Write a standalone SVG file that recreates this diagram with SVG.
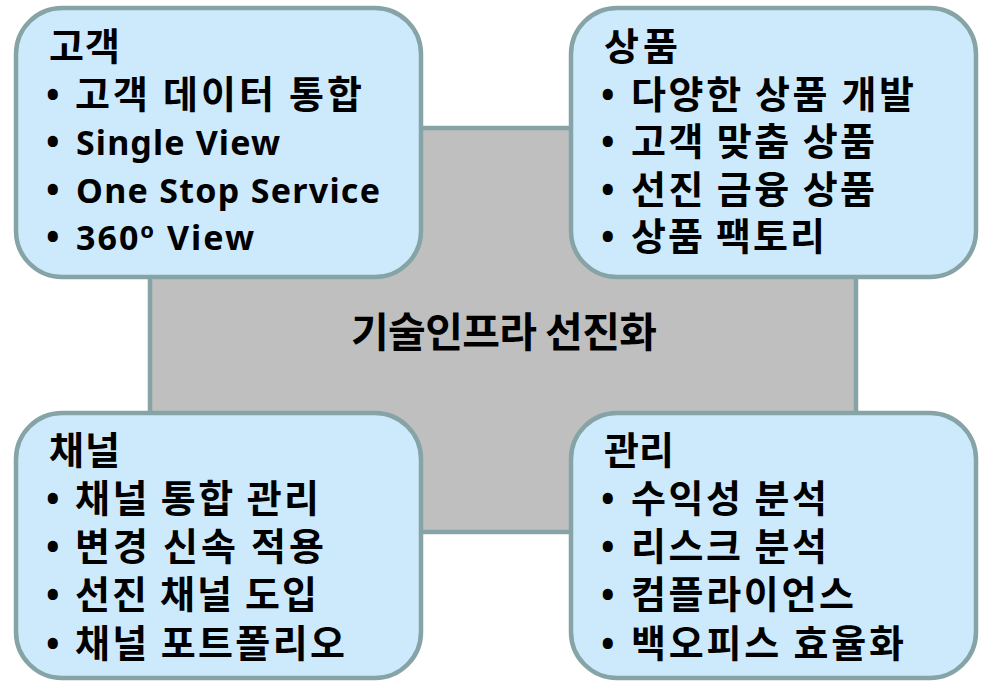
<svg xmlns="http://www.w3.org/2000/svg" width="983" height="683" viewBox="0 0 983 683">
<style>
.box{fill:#cdeafc;stroke:#86a3a6;stroke-width:4.5}
.core{fill:#bfbfbf;stroke:#86a3a6;stroke-width:4.5}
.k{font-family:'Noto Sans CJK KR','Noto Sans',sans-serif;font-weight:bold;font-size:38px;fill:#000}
.c{font-family:'Noto Sans CJK KR','Noto Sans',sans-serif;font-weight:bold;font-size:41px;fill:#000}
.l{font-family:'Noto Sans','Noto Sans CJK KR',sans-serif;font-weight:bold;font-size:34px;fill:#000}
.b{font-family:'Noto Sans',sans-serif;font-weight:bold;font-size:36px;fill:#000}
</style>
<rect width="983" height="683" fill="#ffffff"/>
<g id="core">
<rect class="core" x="150" y="128" width="706" height="404"/>
<text class="c" x="351" y="347" textLength="306">기술인프라 선진화</text>
</g>
<g id="customer">
<rect class="box" x="16" y="8" width="405" height="269" rx="46"/>
<text class="k" x="49" y="60" textLength="71">고객</text>
<text class="b" x="46" y="108">•</text>
<text class="k" x="75" y="108" textLength="287">고객 데이터 통합</text>
<text class="b" x="46" y="155">•</text>
<text class="l" x="76" y="155" textLength="204">Single View</text>
<text class="b" x="46" y="203">•</text>
<text class="l" x="76" y="203" textLength="304">One Stop Service</text>
<text class="b" x="46" y="250">•</text>
<text class="l" x="76" y="250" textLength="178">360<tspan font-size="22" dy="-12">o</tspan><tspan dy="12"> View</tspan></text>
</g>
<g id="product">
<rect class="box" x="571" y="8" width="405" height="269" rx="46"/>
<text class="k" x="604" y="60" textLength="74">상품</text>
<text class="b" x="601" y="108">•</text>
<text class="k" x="631" y="108" textLength="283">다양한 상품 개발</text>
<text class="b" x="601" y="155">•</text>
<text class="k" x="631" y="155" textLength="244">고객 맞춤 상품</text>
<text class="b" x="601" y="203">•</text>
<text class="k" x="631" y="203" textLength="244">선진 금융 상품</text>
<text class="b" x="601" y="250">•</text>
<text class="k" x="631" y="250" textLength="194">상품 팩토리</text>
</g>
<g id="channel">
<rect class="box" x="16" y="413" width="405" height="265" rx="46"/>
<text class="k" x="49" y="464" textLength="71">채널</text>
<text class="b" x="46" y="512">•</text>
<text class="k" x="75" y="512" textLength="244">채널 통합 관리</text>
<text class="b" x="46" y="560">•</text>
<text class="k" x="75" y="560" textLength="249">변경 신속 적용</text>
<text class="b" x="46" y="608">•</text>
<text class="k" x="75" y="608" textLength="242">선진 채널 도입</text>
<text class="b" x="46" y="657">•</text>
<text class="k" x="75" y="657" textLength="270">채널 포트폴리오</text>
</g>
<g id="management">
<rect class="box" x="571" y="413" width="405" height="265" rx="46"/>
<text class="k" x="604" y="464" textLength="70">관리</text>
<text class="b" x="601" y="512">•</text>
<text class="k" x="631" y="512" textLength="196">수익성 분석</text>
<text class="b" x="601" y="560">•</text>
<text class="k" x="631" y="560" textLength="196">리스크 분석</text>
<text class="b" x="601" y="608">•</text>
<text class="k" x="631" y="608" textLength="223">컴플라이언스</text>
<text class="b" x="601" y="657">•</text>
<text class="k" x="631" y="657" textLength="273">백오피스 효율화</text>
</g>
<g id="connectors"></g>
</svg>
